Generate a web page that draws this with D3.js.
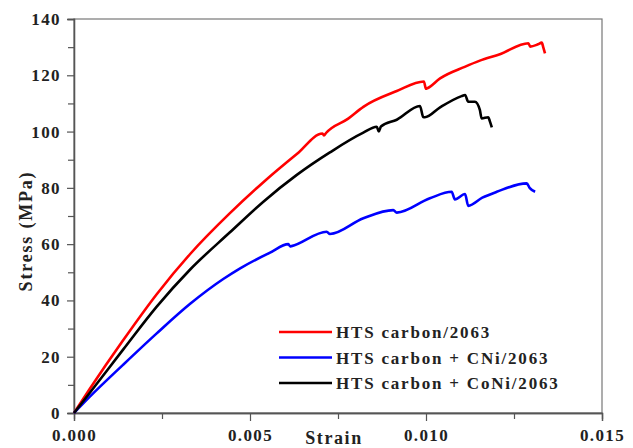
<!DOCTYPE html>
<html>
<head>
<meta charset="utf-8">
<script src="https://cdn.jsdelivr.net/npm/d3@7"></script>
<style>
  body { margin: 0; background: #fff; }
  text { font-family: "Liberation Serif", "Times New Roman", Times, serif; font-weight: bold; fill: #222; }
</style>
</head>
<body>
<div id="chart"></div>
<script>
// Data: [strain, stress MPa]
let carbon = [[0,0],[0.00045,8.6],[0.0014,25.9],[0.00235,42.2],[0.0033,56.5],[0.00443,71.0],[0.00538,82.0],
  [0.00633,92.0],[0.00706,99.3],[0.0071,98.6],[0.00716,99.5],[0.00779,104.6],[0.00822,108.8],[0.00917,114.4],
  [0.00994,117.8],[0.01,115.2],[0.01004,115.4],[0.0104,118.9],[0.0111,123.0],[0.01153,125.2],[0.0121,127.5],
  [0.01291,131.4],[0.01296,130.2],[0.01318,131.0],[0.01329,131.6],[0.01333,130.0],[0.01338,127.8]];

let carbonCNi = [[0,0],[0.00045,5.8],[0.0014,17.2],[0.00235,28.3],[0.0033,38.8],[0.00424,47.6],[0.00472,51.4],
  [0.00557,57.0],[0.00609,60.0],[0.00614,59.2],[0.00618,59.3],[0.00718,64.4],[0.00727,63.6],[0.00822,69.2],
  [0.00907,72.1],[0.00917,71.2],[0.01011,76.3],[0.01073,78.6],[0.01082,75.9],[0.01111,77.8],[0.0112,73.6],
  [0.0116,76.5],[0.01201,78.6],[0.01286,81.6],[0.01295,79.9],[0.0131,78.6]];

let carbonCoNi = [[0,0],[0.00045,7.2],[0.0014,22.6],[0.00235,37.8],[0.0033,51.0],[0.00443,64.2],[0.00538,75.1],
  [0.00633,84.6],[0.00727,92.6],[0.00822,99.6],[0.0086,101.7],[0.00866,100.0],[0.00872,101.8],[0.00917,104.2],
  [0.00983,109.1],[0.00992,105.2],[0.00997,105.1],[0.0104,108.6],[0.01101,112.6],[0.01111,113.0],[0.0112,110.6],
  [0.01139,110.6],[0.01153,107.7],[0.01158,104.7],[0.01177,105.1],[0.01181,103.8],[0.01187,101.5]];

let seriesNames = ["HTS carbon/2063", "HTS carbon + CNi/2063", "HTS carbon + CoNi/2063"];
let seriesColors = ["#ff0000", "#0000ff", "#000000"];
let seriesData = [carbon, carbonCNi, carbonCoNi];

let xTicks = [0, 0.005, 0.010, 0.015];
let xMinorTicks = [0.0025, 0.0075, 0.0125];
let yTicks = [0, 20, 40, 60, 80, 100, 120, 140];
let yMinorTicks = [10, 30, 50, 70, 90, 110, 130];

// SVG area
let svgWidth = 633;
let svgHeight = 448;
let chartMargin = { top: 19, right: 31, bottom: 35, left: 74 };
let chartWidth = svgWidth - chartMargin.left - chartMargin.right;
let chartHeight = svgHeight - chartMargin.top - chartMargin.bottom;

let svg = d3.select("#chart")
  .append("svg")
  .attr("width", svgWidth)
  .attr("height", svgHeight);

let chartGroup = svg.append("g")
  .attr("transform", `translate(${chartMargin.left}, ${chartMargin.top})`);

let xScale = d3.scaleLinear().domain([0, 0.015]).range([0, chartWidth]);
let yScale = d3.scaleLinear().domain([0, 140]).range([chartHeight, 0]);

// frame
chartGroup.append("rect")
  .attr("width", chartWidth)
  .attr("height", chartHeight)
  .attr("fill", "none")
  .attr("stroke", "#777")
  .attr("stroke-width", 1.2);

// axes
let axisColor = "#555";
let xAxis = chartGroup.append("g")
  .attr("transform", `translate(0, ${chartHeight})`)
  .call(d3.axisBottom(xScale).tickValues(xTicks).tickFormat(d3.format(".3f")).tickSize(8).tickPadding(5));
chartGroup.append("g")
  .attr("transform", `translate(0, ${chartHeight})`)
  .call(d3.axisBottom(xScale).tickValues(xMinorTicks).tickFormat("").tickSize(6));

let yAxis = chartGroup.append("g")
  .call(d3.axisLeft(yScale).tickValues(yTicks).tickSize(7).tickPadding(6));
chartGroup.append("g")
  .call(d3.axisLeft(yScale).tickValues(yMinorTicks).tickFormat("").tickSize(6));

chartGroup.selectAll(".domain").attr("stroke", axisColor).attr("stroke-width", 1.3);
chartGroup.selectAll(".tick line").attr("stroke", axisColor).attr("stroke-width", 1.2);
chartGroup.selectAll(".tick text")
  .attr("font-size", 17)
  .attr("letter-spacing", 1.4)
  .attr("fill", "#222");
xAxis.selectAll(".tick text").attr("dy", "0.9em");

// lines
let line = d3.line()
  .x(d => xScale(d[0]))
  .y(d => yScale(d[1]))
  .curve(d3.curveMonotoneX);

seriesData.forEach((s, i) => {
  chartGroup.append("path")
    .datum(s)
    .attr("d", line)
    .attr("fill", "none")
    .attr("stroke", seriesColors[i])
    .attr("stroke-width", 2.6)
    .attr("stroke-linejoin", "round");
});

// axis titles
svg.append("text")
  .attr("x", 334)
  .attr("y", 444)
  .attr("text-anchor", "middle")
  .attr("font-size", 18)
  .attr("letter-spacing", 1.6)
  .text("Strain");

svg.append("text")
  .attr("transform", "rotate(-90)")
  .attr("x", -231)
  .attr("y", 32)
  .attr("text-anchor", "middle")
  .attr("font-size", 18)
  .attr("letter-spacing", 1.8)
  .text("Stress (MPa)");

// legend
let legend = svg.append("g");
seriesNames.forEach((name, i) => {
  let y = 332 + i * 25.5;
  legend.append("line")
    .attr("x1", 279).attr("x2", 332)
    .attr("y1", y).attr("y2", y)
    .attr("stroke", seriesColors[i])
    .attr("stroke-width", 2.6);
  legend.append("text")
    .attr("x", 336)
    .attr("y", y + 6)
    .attr("font-size", 17)
    .attr("letter-spacing", 1.8)
    .text(name);
});
</script>
</body>
</html>
